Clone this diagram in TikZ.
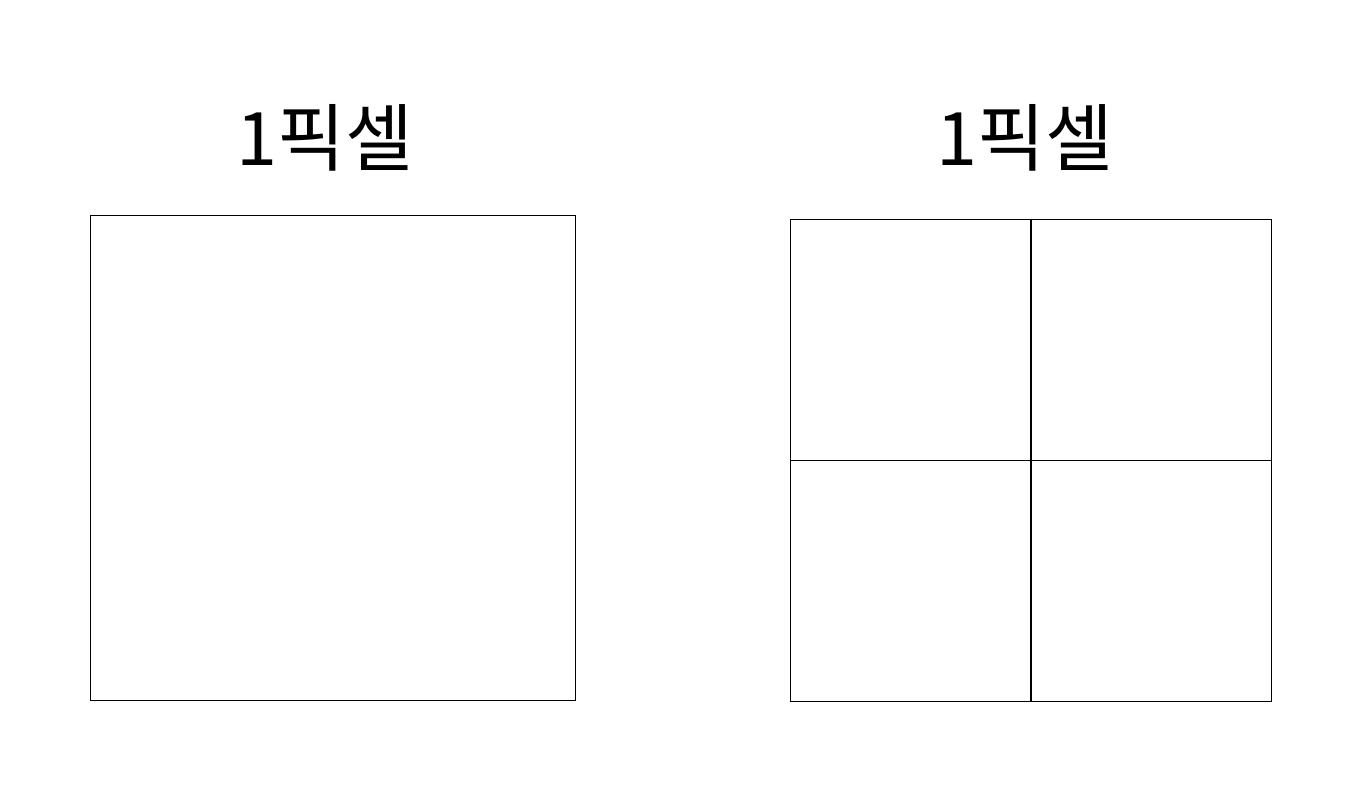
\documentclass[tikz,border=0pt]{standalone}
\usepackage{fontspec}
\newfontfamily\cjk{Noto Sans CJK KR}
\begin{document}
\begin{tikzpicture}[x=0.02cm,y=-0.02cm]
\useasboundingbox (0,0) rectangle (1358,811);
\tikzset{pixelbox/.style={draw, line width=0.6pt, inner sep=0pt},
  title/.style={font=\cjk\fontsize{42}{50}\selectfont, inner sep=0pt}}

\node[title] (t1) at (325,138) {1픽셀};
\node[title] (t2) at (1025,138) {1픽셀};

\node[pixelbox, minimum width=9.72cm, minimum height=9.72cm] (p1) at (333,458) {};
\node[pixelbox, minimum width=9.64cm, minimum height=9.66cm] (p2) at (1031,460.5) {};

\path[draw, line width=0.6pt] (p2.north) -- (p2.south);
\path[draw, line width=0.6pt] (p2.west) -- (p2.east);
\end{tikzpicture}
\end{document}
